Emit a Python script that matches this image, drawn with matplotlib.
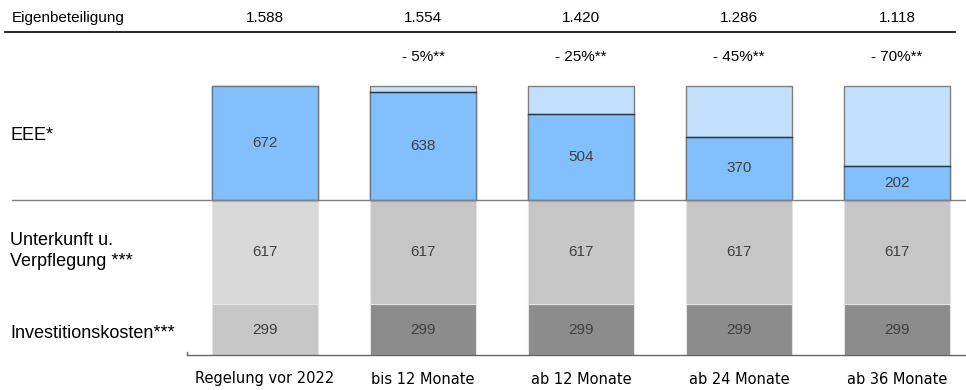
import matplotlib.pyplot as plt
import numpy as np

# Daten
kategorien = ['Regelung vor 2022', 'bis 12 Monate', 'ab 12 Monate', 'ab 24 Monate', 'ab 36 Monate']
investition = [299, 299, 299, 299, 299]
unterkunft = [617, 617, 617, 617, 617]
eee = [672, 638, 504, 370, 202]
eee_voll = 672
reduktion = [None, 5, 25, 45, 70]

plt.rcParams['font.family'] = ['Liberation Sans', 'DejaVu Sans']

fig = plt.figure(figsize=(9.66, 3.9), dpi=100)
ax = fig.add_axes([0, 0, 1, 1])
ax.axis('off')

# Skala: 1 px ~ 5.903 Einheiten, Balkenabstand 158 px
px = 5.903
ax.set_xlim(-265 / 158, (966 - 265) / 158)
ax.set_ylim(-(390 - 355) * px, 355 * px)

x = np.arange(len(kategorien))
breite = 106 / 158

farbe_unterkunft = ['#d9d9d9'] + ['#c6c6c6'] * 4
farbe_invest = ['#c6c6c6'] + ['#8c8c8c'] * 4

inv = np.array(investition)
unt = np.array(unterkunft)
basis = inv + unt

ax.bar(x, inv, breite, color=farbe_invest, edgecolor='#e4e4e4', linewidth=0.8)
ax.bar(x, unt, breite, bottom=inv, color=farbe_unterkunft, edgecolor='#e4e4e4', linewidth=0.8)
ax.bar(x, eee_voll, breite, bottom=basis, color='#c2e0fb', edgecolor='#808080', linewidth=1)
ax.bar(x, eee, breite, bottom=basis, color='#82bffd', edgecolor='#6d7782', linewidth=1)
# dunkle Trennlinie zwischen EEE und Ersparnis
for i in range(1, len(x)):
    ax.plot([x[i] - breite / 2, x[i] + breite / 2], [basis[i] + eee[i]] * 2, color='#2e3a46', lw=1)

txt = dict(ha='center', va='center', color='#404040', fontsize=11)
for i in range(len(x)):
    ax.text(x[i], inv[i] / 2, str(investition[i]), **txt)
    ax.text(x[i], inv[i] + unt[i] / 2, str(unterkunft[i]), **txt)
    ax.text(x[i], basis[i] + eee[i] / 2, str(eee[i]), **txt)

# Linien
trans = ax.get_xaxis_transform()
ax.plot([5 / 158 - 265 / 158, 955 / 158 - 265 / 158], [0.918, 0.918], transform=trans,
        color='black', lw=1.2, clip_on=False)
ax.axhline(basis[0], xmin=12 / 966, xmax=1, color='#808080', lw=1)
ax.axhline(0, xmin=187 / 966, xmax=1, color='#666666', lw=1)
ax.plot([(187 - 265) / 158] * 2, [0, 3 * px], color='#666666', lw=1)

# Kopfzeile
gesamt = inv + unt + np.array(eee)
ax.text(-253 / 158, 0.954, 'Eigenbeteiligung', transform=trans, ha='left', va='center', fontsize=11)
for i in range(len(x)):
    s = f'{gesamt[i]:,}'.replace(',', '.')
    ax.text(x[i], 0.954, s, transform=trans, ha='center', va='center', fontsize=11)
    if reduktion[i] is not None:
        ax.text(x[i], 0.853, f'- {reduktion[i]}%**', transform=trans, ha='center', va='center', fontsize=11)

# Linke Beschriftungen
lx = -255 / 158
ax.text(lx, (355 - 135) * px, 'EEE*', ha='left', va='center', fontsize=13)
ax.text(lx, (355 - 251) * px, 'Unterkunft u.\nVerpflegung ***', ha='left', va='center', fontsize=13,
        linespacing=1.35)
ax.text(lx, (355 - 333) * px, 'Investitionskosten***', ha='left', va='center', fontsize=13)

# Kategorien
for i in range(len(x)):
    ax.text(x[i], -(379 - 355) * px, kategorien[i], ha='center', va='center',
            fontsize=10.5, family='DejaVu Sans')

fig.savefig('out.png', dpi=100)
